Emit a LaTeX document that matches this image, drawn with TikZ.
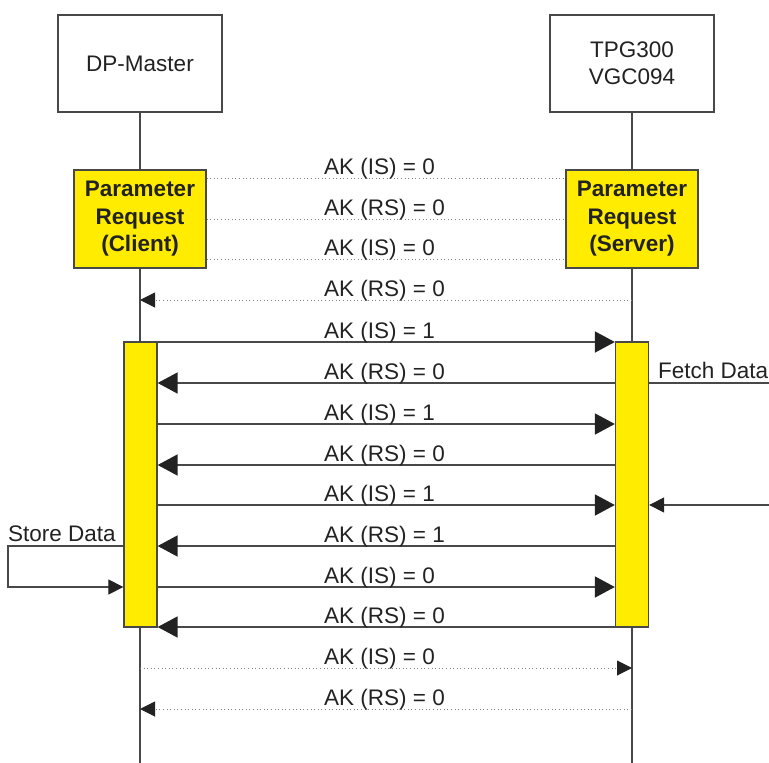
\documentclass[tikz,border=0pt]{standalone}
\usepackage{fontspec}
\setmainfont{Liberation Sans}
\usetikzlibrary{arrows.meta}
\definecolor{lineg}{HTML}{484848}
\definecolor{headg}{HTML}{222222}
\definecolor{txtg}{HTML}{222222}
\definecolor{yfill}{HTML}{FFEC00}
\definecolor{dotg}{HTML}{808080}
\begin{document}
\begin{tikzpicture}[x=1pt,y=-1pt,
  every node/.style={font=\fontsize{22.5}{27}\selectfont, text=txtg, inner sep=0pt},
  objbox/.style={draw=lineg, line width=1.3pt, fill=white, minimum width=164pt, minimum height=97pt, align=center},
  reqbox/.style={draw=lineg, line width=1.3pt, fill=yfill, minimum width=132pt, minimum height=98pt, align=center, font=\fontsize{22.5}{27.5}\selectfont\bfseries},
  actbox/.style={draw=lineg, line width=1.3pt, fill=yfill, minimum width=33pt, minimum height=285pt},
  life/.style={draw=lineg, line width=1.2pt},
  dotmsg/.style={draw=dotg, line width=1pt, dash pattern=on 1pt off 2.6pt},
  solmsg/.style={draw=lineg, line width=1.8pt},
  bigtip/.style={-{Triangle[length=20pt,width=21pt,color=headg]}},
  smalltip/.style={-{Triangle[length=15pt,width=15pt,color=headg]}},
  thin/.style={draw=lineg, line width=1.2pt},
  msglabel/.style={anchor=base west}
]
\useasboundingbox (0,0) rectangle (769,763);

% objects
\node[objbox] (dp) at (140,63.5) {DP-Master};
\node[objbox] (tpg) at (632,63.5) {TPG300\\VGC094};
\coordinate (dpend) at (140,763);
\coordinate (tpgend) at (632,763);
\draw[life] (dp.south) -- (dpend);
\draw[life] (tpg.south) -- (tpgend);

% request boxes
\node[reqbox] (cli) at (140,219) {Parameter\\Request\\(Client)};
\node[reqbox] (srv) at (632,219) {Parameter\\Request\\(Server)};

% activation boxes
\node[actbox] (actL) at (140.5,484.5) {};
\node[actbox] (actR) at (632,484.5) {};

% y levels
\coordinate (m1) at (140,178);
\coordinate (m2) at (140,219);
\coordinate (m3) at (140,259);
\coordinate (m4) at (140,300);
\coordinate (m5) at (140,342);
\coordinate (m6) at (140,383);
\coordinate (m7) at (140,424);
\coordinate (m8) at (140,465);
\coordinate (m9) at (140,505);
\coordinate (m10) at (140,546);
\coordinate (m11) at (140,587);
\coordinate (m12) at (140,627);
\coordinate (m13) at (140,668);
\coordinate (m14) at (140,709);

% dotted exchanges between request boxes
\draw[dotmsg] (cli.east |- m1) -- (srv.west |- m1);
\draw[dotmsg] (cli.east |- m2) -- (srv.west |- m2);
\draw[dotmsg] (cli.east |- m3) -- (srv.west |- m3);
\draw[dotmsg, smalltip] (tpg.south |- m4) -- (dp.south |- m4);

% solid messages
\draw[solmsg, bigtip] (actL.east |- m5) -- (actR.west |- m5);
\draw[solmsg, bigtip] (actR.west |- m6) -- (actL.east |- m6);
\draw[solmsg, bigtip] (actL.east |- m7) -- (actR.west |- m7);
\draw[solmsg, bigtip] (actR.west |- m8) -- (actL.east |- m8);
\draw[solmsg, bigtip] (actL.east |- m9) -- (actR.west |- m9);
\draw[solmsg, bigtip] (actR.west |- m10) -- (actL.east |- m10);
\draw[solmsg, bigtip] (actL.east |- m11) -- (actR.west |- m11);
\draw[solmsg, bigtip] (actR.west |- m12) -- (actL.east |- m12);

% final dotted
\draw[dotmsg, smalltip] (dp.south |- m13) -- (tpg.south |- m13);
\draw[dotmsg, smalltip] (tpg.south |- m14) -- (dp.south |- m14);

% labels
\node[msglabel] (l1) at (324,174) {AK (IS) = 0};
\node[msglabel] (l2) at (324,215) {AK (RS) = 0};
\node[msglabel] (l3) at (324,255) {AK (IS) = 0};
\node[msglabel] (l4) at (324,296) {AK (RS) = 0};
\node[msglabel] (l5) at (324,338) {AK (IS) = 1};
\node[msglabel] (l6) at (324,379) {AK (RS) = 0};
\node[msglabel] (l7) at (324,420) {AK (IS) = 1};
\node[msglabel] (l8) at (324,461) {AK (RS) = 0};
\node[msglabel] (l9) at (324,501) {AK (IS) = 1};
\node[msglabel] (l10) at (324,542) {AK (RS) = 1};
\node[msglabel] (l11) at (324,583) {AK (IS) = 0};
\node[msglabel] (l12) at (324,623) {AK (RS) = 0};
\node[msglabel] (l13) at (324,664) {AK (IS) = 0};
\node[msglabel] (l14) at (324,705) {AK (RS) = 0};

% Fetch Data
\coordinate (fetchA) at (769,383);
\coordinate (fetchB) at (769,505);
\draw[thin] (actR.east |- m6) -- (fetchA);
\node[msglabel] (fetch) at (658,378) {Fetch Data};
\draw[thin, smalltip] (fetchB) -- (actR.east |- m9);

% Store Data
\coordinate (storeA) at (8,546);
\coordinate (storeB) at (8,587);
\node[msglabel] (store) at (8,541) {Store Data};
\draw[thin, smalltip] (actL.west |- m10) -- (storeA) -- (storeB) -- (actL.west |- m11);
\end{tikzpicture}
\end{document}
